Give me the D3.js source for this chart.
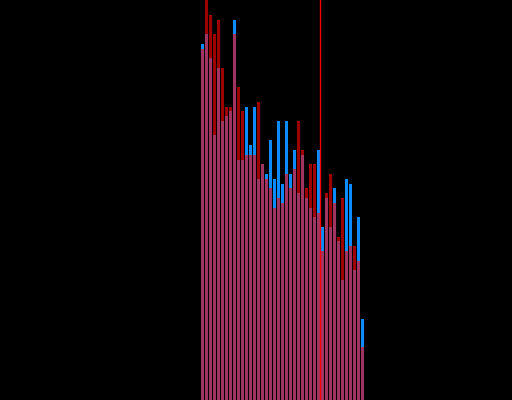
<!DOCTYPE html>
<html>
<head>
<meta charset="utf-8">
<script src="https://cdn.jsdelivr.net/npm/d3@7"></script>
<style>
  html, body { margin: 0; padding: 0; background: #000; }
  svg { display: block; }
</style>
</head>
<body>
<svg id="chart" width="512" height="400"></svg>
<script>
// Bin index for each bar
const bins = d3.range(41);
// Series values (height units, baseline 0)
const blueValues = [356,366,342,265,332,279,284,289,380,240,240,293,255,293,221,236,226,260,221,279,216,279,226,250,207,245,202,192,183,250,173,202,173,212,159,120,221,216,130,183,81];
const redValues  = [351,400,385,366,380,332,293,293,366,313,289,245,245,245,298,236,221,212,192,202,197,226,212,231,279,250,212,236,236,187,149,207,226,197,163,202,149,154,154,139,53];
// Position of the marker line, in bin units
const markerValue = [30];

const W = 512, H = 400;
const svg = d3.select("#chart");
svg.append("rect").attr("width", W).attr("height", H).attr("fill", "#000");

const x = d3.scaleLinear().domain([0, bins.length]).range([200.5, 364.5]);
const y = d3.scaleLinear().domain([0, 400]).range([400, 0]);

const g = svg.append("g");

g.selectAll("rect.blue")
  .data(bins)
  .join("rect")
  .attr("class", "blue")
  .attr("x", d => x(d) + 0.5)
  .attr("width", d => x(d + 1) - x(d) - 1)
  .attr("y", d => y(blueValues[d]))
  .attr("height", d => y(0) - y(blueValues[d]))
  .attr("fill", "#0a8cff");

g.selectAll("rect.red")
  .data(bins)
  .join("rect")
  .attr("class", "red")
  .attr("x", d => x(d) + 0.5)
  .attr("width", d => x(d + 1) - x(d) - 1)
  .attr("y", d => y(redValues[d]))
  .attr("height", d => y(0) - y(redValues[d]))
  .attr("fill", "rgb(255,0,0)")
  .attr("fill-opacity", 0.62);

g.selectAll("line.marker")
  .data(markerValue)
  .join("line")
  .attr("class", "marker")
  .attr("x1", d => x(d))
  .attr("x2", d => x(d))
  .attr("y1", 0)
  .attr("y2", H)
  .attr("stroke", "#ff0000")
  .attr("stroke-width", 1.3);
</script>
</body>
</html>
